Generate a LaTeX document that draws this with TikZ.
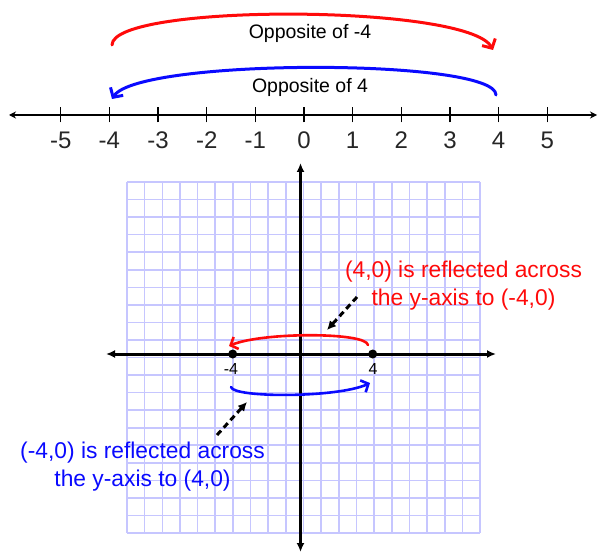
\documentclass[tikz,border=0pt]{standalone}
\usepackage{fontspec}
\setmainfont{Liberation Sans}
\usetikzlibrary{arrows.meta}
\definecolor{gridc}{RGB}{198,198,255}
\definecolor{myred}{RGB}{255,10,10}
\definecolor{myblue}{RGB}{10,10,255}
\begin{document}
\begin{tikzpicture}[x=1pt,y=-1pt,
  gridline/.style={gridc, line width=1.6pt},
  numline/.style={black, line width=1.3pt, {Stealth[length=7pt,width=7pt]}-{Stealth[length=7pt,width=7pt]}},
  tickline/.style={black, line width=1.3pt},
  numlab/.style={font=\fontsize{24}{28}\selectfont, text=black!85, inner sep=0pt},
  opptext/.style={font=\fontsize{19.5}{23}\selectfont, inner sep=0pt},
  bigarc/.style={line width=3pt, line cap=round, -{Straight Barb[length=7pt,width=15pt,line width=3pt]}},
  smallarc/.style={line width=2.6pt, line cap=round, -{Straight Barb[length=6pt,width=13pt,line width=2.6pt]}},
  axisline/.style={black, line width=3pt, {Latex[length=9pt,width=8pt]}-{Latex[length=9pt,width=8pt]}},
  dot/.style={circle, fill=black, inner sep=0pt, minimum size=9pt},
  ptlab/.style={font=\fontsize{16}{18}\selectfont, inner sep=0pt},
  dasharrow/.style={black, line width=3pt, dash pattern=on 6pt off 4pt, -{Latex[length=9pt,width=9pt]}},
  note/.style={font=\fontsize{22.8}{28}\selectfont, align=center, inner sep=0pt}
]
\useasboundingbox (0,0) rectangle (601,553);

% ---- grid ----
\foreach \i in {0,...,20} {
  \draw[gridline] (127+\i*17.65,182) -- (127+\i*17.65,533);
  \draw[gridline] (127,182+\i*17.55) -- (480,182+\i*17.55);
}

% ---- number line ----
\coordinate (nlL) at (9,115);
\coordinate (nlR) at (597,115);
\draw[numline] (nlL) -- (nlR);
\foreach \n in {-5,...,5} {
  \coordinate (t\n) at (304+48.65*\n,115);
  \draw[tickline] ([yshift=-7.5pt]t\n) -- ([yshift=7.5pt]t\n);
  \node[numlab] (lab\n) at (304+48.65*\n,140) {\n};
}

% ---- top arcs ----
\coordinate (ra) at (112,45);
\coordinate (rb) at (493,50);
\draw[bigarc, myred] (ra) .. controls (112,3) and (468,4) .. (rb);
\node[opptext] (opp1) at (310,33) {Opposite of -4};

\coordinate (ba) at (496,95);
\coordinate (bb) at (112,99);
\draw[bigarc, myblue] (ba) .. controls (496,58) and (138,58) .. (bb);
\node[opptext] (opp2) at (310,87) {Opposite of 4};

% ---- axes ----
\coordinate (xL) at (106,354);
\coordinate (xR) at (496,354);
\coordinate (yT) at (300.5,163);
\coordinate (yB) at (300.5,552);
\draw[axisline] (xL) -- (xR);
\draw[axisline] (yB) -- (yT);

% ---- points ----
\node[dot] (pm) at (232.7,354) {};
\node[dot] (pp) at (372.7,354) {};
\node[ptlab] (lm) at (231,369) {-4};
\node[ptlab] (lp) at (373,369) {4};

% ---- grid arcs ----
\coordinate (ga) at (368,345);
\coordinate (gb) at (229,346);
\draw[smallarc, myred] (ga) .. controls (366,332) and (262,332) .. (gb);
\coordinate (gc) at (231,387);
\coordinate (gd) at (370,383);
\draw[smallarc, myblue] (gc) .. controls (233,398) and (338,398) .. (gd);

% ---- dashed arrows ----
\coordinate (d1a) at (357,297);
\coordinate (d1b) at (327,330);
\draw[dasharrow] (d1a) -- (d1b);
\coordinate (d2a) at (217,435);
\coordinate (d2b) at (247,402);
\draw[dasharrow] (d2a) -- (d2b);

% ---- notes ----
\node[note, text=myred] (rnote) at (463.5,286) {(4,0) is reflected across\\the y-axis to (-4,0)};
\node[note, text=myblue] (bnote) at (142.5,466.5) {(-4,0) is reflected across\\the y-axis to (4,0)};
\end{tikzpicture}
\end{document}
